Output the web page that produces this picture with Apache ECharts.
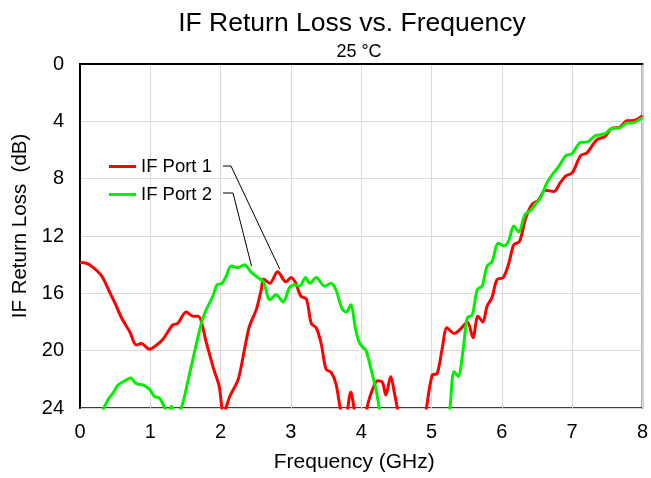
<!DOCTYPE html>
<html>
<head>
<meta charset="utf-8">
<script src="https://cdn.jsdelivr.net/npm/echarts@6/dist/echarts.min.js"></script>
<style>
  html, body { margin: 0; padding: 0; background: #fff; }
  #main { width: 651px; height: 478px; }
</style>
</head>
<body>
<div id="main"></div>
<script>
// 频率 (GHz) 与回波损耗 (dB)
const port1Freq = [0.00, 0.09, 0.19, 0.31, 0.43, 0.50, 0.59, 0.71, 0.80, 0.87, 0.99, 1.09, 1.18, 1.32, 1.39, 1.51, 1.61, 1.68, 1.80, 1.89, 1.98, 2.04, 2.13, 2.25, 2.34, 2.41, 2.51, 2.58, 2.61, 2.70, 2.81, 2.93, 3.00, 3.07, 3.14, 3.22, 3.29, 3.36, 3.43, 3.50, 3.57, 3.64, 3.71, 3.77, 3.85, 3.92, 3.98, 4.04, 4.10, 4.17, 4.23, 4.30, 4.35, 4.42, 4.47, 4.52, 4.60, 4.80, 4.92, 5.01, 5.08, 5.15, 5.22, 5.32, 5.41, 5.51, 5.59, 5.66, 5.73, 5.79, 5.86, 5.93, 6.02, 6.10, 6.17, 6.25, 6.34, 6.43, 6.52, 6.62, 6.74, 6.83, 6.91, 7.00, 7.12, 7.21, 7.35, 7.47, 7.56, 7.68, 7.78, 7.87, 8.00]
const port1Loss = [13.85, 13.9, 14.2, 14.8, 16.0, 16.7, 17.7, 18.7, 19.6, 19.5, 19.9, 19.6, 19.2, 18.2, 18.1, 17.3, 17.6, 17.6, 19.5, 21.1, 22.5, 24.4, 23.2, 22.0, 19.9, 18.3, 17.1, 15.7, 15.0, 15.3, 14.5, 15.2, 14.9, 15.3, 16.2, 16.4, 18.1, 18.4, 19.5, 21.3, 21.5, 22.3, 24.2, 25.0, 22.9, 24.6, 25.5, 25.0, 23.6, 22.6, 22.1, 22.2, 23.1, 21.8, 22.9, 24.2, 27, 27, 24.2, 21.7, 21.6, 19.9, 18.4, 18.8, 18.5, 18.0, 19.1, 17.6, 18.0, 16.9, 16.3, 15.05, 14.9, 13.9, 12.6, 12.4, 10.75, 9.8, 9.5, 8.8, 8.9, 8.3, 7.8, 7.6, 6.4, 6.2, 5.3, 5.05, 4.5, 4.4, 3.96, 3.95, 3.6]

const port2Freq = [0.00, 0.20, 0.33, 0.40, 0.47, 0.54, 0.64, 0.72, 0.80, 0.90, 0.99, 1.06, 1.13, 1.22, 1.26, 1.30, 1.36, 1.44, 1.54, 1.61, 1.68, 1.75, 1.82, 1.89, 1.95, 2.02, 2.08, 2.15, 2.25, 2.34, 2.43, 2.53, 2.61, 2.70, 2.79, 2.89, 2.98, 3.05, 3.12, 3.21, 3.27, 3.36, 3.48, 3.57, 3.64, 3.73, 3.79, 3.85, 3.92, 3.97, 4.03, 4.07, 4.14, 4.21, 4.26, 4.32, 4.60, 5.00, 5.20, 5.26, 5.32, 5.38, 5.45, 5.51, 5.58, 5.65, 5.72, 5.79, 5.86, 5.95, 6.03, 6.10, 6.17, 6.24, 6.33, 6.41, 6.48, 6.55, 6.64, 6.72, 6.81, 6.91, 7.00, 7.12, 7.21, 7.33, 7.47, 7.56, 7.68, 7.78, 7.87, 8.00]
const port2Loss = [27, 25.5, 24.1, 23.4, 22.96, 22.4, 22.1, 21.9, 22.3, 22.4, 22.7, 23.2, 23.3, 24.1, 24.3, 23.9, 24.4, 24.0, 22.0, 20.5, 19.0, 17.7, 16.9, 16.2, 15.4, 15.3, 14.8, 14.1, 14.2, 14.0, 14.5, 14.9, 15.2, 16.45, 16.1, 16.6, 15.6, 15.4, 15.5, 14.9, 15.3, 14.9, 15.5, 15.3, 15.75, 17.1, 17.3, 16.8, 18.5, 19.4, 19.8, 20.0, 21.3, 22.7, 24.1, 26, 30, 30, 26, 24.1, 21.45, 21.8, 19.9, 17.7, 17.5, 15.75, 15.5, 14.1, 13.8, 12.5, 12.7, 12.3, 11.3, 11.7, 10.5, 10.2, 9.75, 9.35, 8.3, 7.7, 7.15, 6.4, 6.26, 5.47, 5.45, 5.0, 4.86, 4.5, 4.45, 4.12, 4.1, 3.72]

const xTicks = [0, 8, 1]   // min, max, interval
const yTicks = [0, 24, 4]

// 图例引线指向的曲线位置
const port1Pointer = [2.84, 14.3]
const port2Pointer = [2.44, 14.1]

const FONT = 'Liberation Sans'

function zip(xs, ys) {
  return xs.map((x, i) => [x, ys[i]])
}

let myChart = echarts.init(document.getElementById('main'))

const option = {
  animation: false,
  backgroundColor: '#fff',
  title: [
    {
      text: 'IF Return Loss vs. Frequency',
      left: 347,
      top: 5,
      textAlign: 'center',
      textStyle: { fontFamily: FONT, fontSize: 26.5, fontWeight: 'normal', color: '#000' },
    },
    {
      text: '25 °C',
      left: 354,
      top: 38,
      textAlign: 'center',
      textStyle: { fontFamily: FONT, fontSize: 18, fontWeight: 'normal', color: '#000' },
    },
  ],
  legend: {
    orient: 'vertical',
    left: 109,
    top: 157,
    padding: 0,
    itemWidth: 27,
    itemHeight: 3,
    itemGap: 9,
    icon: 'rect',
    textStyle: { fontFamily: FONT, fontSize: 18.5, color: '#000' },
    data: ['IF Port 1', 'IF Port 2'],
  },
  grid: {
    left: 80,
    right: 7,
    top: 64,
    bottom: 70,
    show: true,
    borderColor: '#000',
    borderWidth: 1.5,
  },
  xAxis: {
    type: 'value',
    min: xTicks[0],
    max: xTicks[1],
    interval: xTicks[2],
    name: 'Frequency (GHz)',
    nameLocation: 'middle',
    nameGap: 44,
    nameTextStyle: { fontFamily: FONT, fontSize: 21, color: '#000', padding: [0, 14, 0, 0] },
    axisLine: { lineStyle: { color: '#000', width: 2 } },
    axisTick: { show: false },
    axisLabel: { fontFamily: FONT, fontSize: 20, color: '#000', margin: 14 },
    splitLine: { lineStyle: { color: '#d9d9d9', width: 1 } },
  },
  yAxis: {
    type: 'value',
    inverse: true,
    min: yTicks[0],
    max: yTicks[1],
    interval: yTicks[2],
    name: 'IF Return Loss  (dB)',
    nameLocation: 'middle',
    nameGap: 46,
    nameTextStyle: { fontFamily: FONT, fontSize: 20.5, color: '#000', padding: [0, 0, 0, 20] },
    axisLine: { show: true, lineStyle: { color: '#000', width: 2 } },
    axisTick: { show: false },
    axisLabel: { fontFamily: FONT, fontSize: 20, color: '#000', margin: 16 },
    splitLine: { lineStyle: { color: '#d9d9d9', width: 1 } },
  },
  series: [
    {
      name: 'IF Port 1',
      type: 'line',
      data: zip(port1Freq, port1Loss),
      smooth: 0.3,
      showSymbol: false,
      clip: true,
      color: '#ff0000',
      lineStyle: { color: '#ff0000', width: 3 },
    },
    {
      name: 'IF Port 2',
      type: 'line',
      data: zip(port2Freq, port2Loss),
      smooth: 0.3,
      showSymbol: false,
      clip: true,
      color: '#00f000',
      lineStyle: { color: '#00f000', width: 3 },
    },
  ],
}

myChart.setOption(option)

// 图例引线
const p1 = myChart.convertToPixel({ gridIndex: 0 }, port1Pointer)
const p2 = myChart.convertToPixel({ gridIndex: 0 }, port2Pointer)
myChart.setOption({
  graphic: [
    {
      type: 'polyline',
      shape: { points: [[223, 166], [231, 166], p1] },
      style: { stroke: '#000', lineWidth: 1, fill: null },
      z: 10,
    },
    {
      type: 'polyline',
      shape: { points: [[223, 193], [233, 193], p2] },
      style: { stroke: '#000', lineWidth: 1, fill: null },
      z: 10,
    },
  ],
})
</script>
</body>
</html>
